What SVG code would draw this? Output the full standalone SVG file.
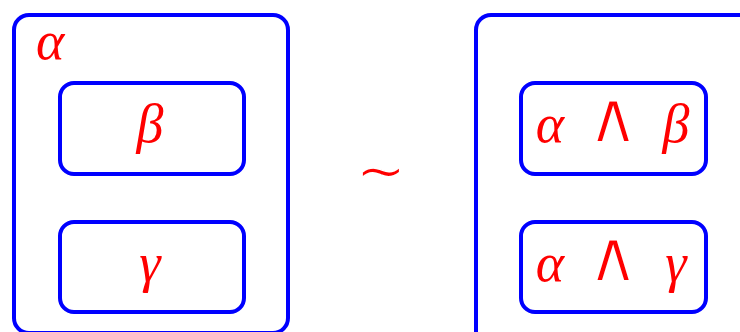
<svg xmlns="http://www.w3.org/2000/svg" width="740" height="332" viewBox="0 0 740 332">
<style>
.box{fill:none;stroke:#0000ff;stroke-width:4}
.t{fill:#ff0000;font-family:"Liberation Serif","DejaVu Serif",serif;font-size:54px}
.i{font-style:italic}
.op{font-family:"DejaVu Sans",sans-serif;font-size:72px;stroke:#ffffff;stroke-width:2.2px}
.sim{font-family:"DejaVu Sans",sans-serif;font-size:60px;stroke:#ffffff;stroke-width:1.5px}
</style>
<rect width="740" height="332" fill="#fff"/>
<g id="left">
<rect class="box" x="14" y="15" width="274" height="318" rx="15"/>
<text class="t i" x="36" y="59">α</text>
</g>
<g id="beta">
<rect class="box" x="60" y="83" width="184" height="91" rx="14"/>
<text class="t i" x="150" y="142" text-anchor="middle">β</text>
</g>
<g id="gamma">
<rect class="box" x="60" y="222" width="184" height="90" rx="14"/>
<text class="t i" x="150" y="281" text-anchor="middle">γ</text>
</g>
<g id="sim">
<text class="t sim" x="381" y="191" text-anchor="middle">∼</text>
</g>
<g id="right">
<rect class="box" x="476" y="15" width="300" height="340" rx="15"/>
</g>
<g id="ab">
<rect class="box" x="521" y="83" width="185" height="91" rx="14"/>
<text class="t" y="142" text-anchor="middle"><tspan class="i" x="550">α</tspan><tspan class="op" x="613">∧</tspan><tspan class="i" x="676">β</tspan></text>
</g>
<g id="ag">
<rect class="box" x="521" y="222" width="185" height="90" rx="14"/>
<text class="t" y="281" text-anchor="middle"><tspan class="i" x="550">α</tspan><tspan class="op" x="613">∧</tspan><tspan class="i" x="676">γ</tspan></text>
</g>
<g id="connectors"></g>
</svg>
